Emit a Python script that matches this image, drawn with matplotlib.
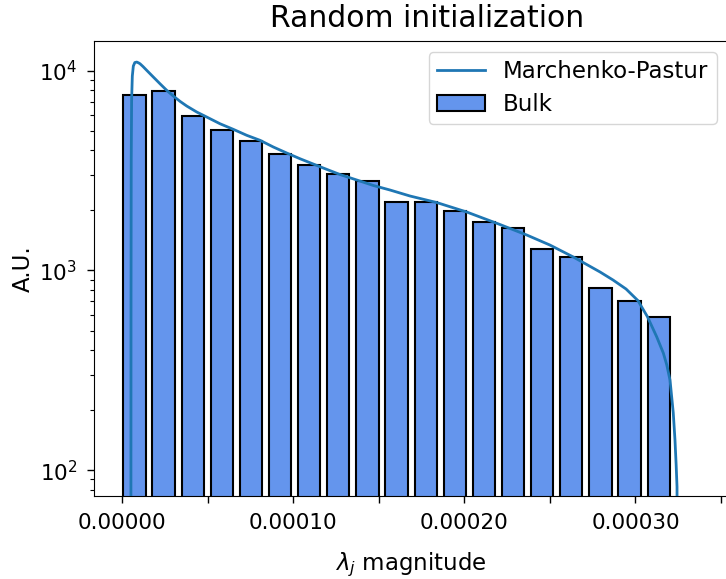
import numpy as np
import matplotlib
matplotlib.use("Agg")
import matplotlib.pyplot as plt

# ---------------- data ----------------
bin_centers = [7.13e-6, 2.416e-5, 4.118e-5, 5.821e-5, 7.523e-5, 9.226e-5,
               1.0929e-4, 1.2631e-4, 1.4334e-4, 1.6036e-4, 1.7739e-4, 1.9441e-4,
               2.1144e-4, 2.2847e-4, 2.4549e-4, 2.6252e-4, 2.7954e-4, 2.9657e-4,
               3.1360e-4]
bulk_counts = [7590, 7940, 5960, 5030, 4430, 3840, 3390, 3030, 2790, 2210,
               2210, 1990, 1750, 1630, 1280, 1170, 817, 700, 582]

mp_x = [5.05e-6, 5.085e-6, 5.14e-6, 5.26e-6, 5.49e-6, 5.90e-6, 6.49e-6, 7.36e-6,
        8.48e-6, 9.53e-6, 1.040e-5, 1.216e-5, 1.432e-5, 1.818e-5, 2.209e-5,
        2.601e-5, 2.987e-5, 3.378e-5, 3.770e-5, 4.355e-5, 4.939e-5, 5.716e-5,
        6.494e-5, 7.277e-5, 8.054e-5, 8.832e-5, 9.615e-5, 1.039e-4, 1.175e-4,
        1.273e-4, 1.371e-4, 1.468e-4, 1.565e-4, 1.682e-4, 1.838e-4, 2.014e-4,
        2.208e-4, 2.364e-4, 2.500e-4, 2.637e-4, 2.793e-4, 2.869e-4, 2.945e-4,
        3.015e-4, 3.070e-4, 3.124e-4, 3.163e-4, 3.183e-4, 3.202e-4, 3.221e-4,
        3.231e-4, 3.238e-4, 3.243e-4, 3.246e-4]
mp_y = [1.0, 79.7, 712, 3573, 7134, 9408, 10556, 10990,
        11053, 10952, 10839, 10495, 10046, 9300, 8606,
        7978, 7470, 7027, 6658, 6214, 5865, 5428,
        5089, 4751, 4485, 4151, 3874, 3627, 3259,
        3023, 2838, 2664, 2529, 2360, 2189, 1962,
        1699, 1506, 1341, 1168, 983, 896, 808,
        706, 587, 466, 386, 337, 283, 194,
        142, 106, 82.5, 1.0]

x_tick_values = [0.0, 0.00005, 0.0001, 0.00015, 0.0002, 0.00025, 0.0003, 0.00035]
x_tick_labels = ["0.00000", "", "0.00010", "", "0.00020", "", "0.00030", ""]

title_text = "Random initialization"
x_label = r"$\lambda_j$ magnitude"
y_label = "A.U."
line_label = "Marchenko-Pastur"
bar_label = "Bulk"

# ---------------- drawing ----------------
plt.rcParams['font.family'] = ['DejaVu Sans']
plt.rcParams['mathtext.fontset'] = 'dejavusans'

W, H = 726, 579
L, R, T, B = 94, 728, 41, 496
fig = plt.figure(figsize=(W / 100, H / 100), dpi=100)
ax = fig.add_axes([L / W, 1 - B / H, (R - L) / W, (B - T) / H])

ax.plot(mp_x, mp_y, color='#1f77b4', lw=2.0, label=line_label, zorder=3)
ax.bar(bin_centers, bulk_counts, width=1.30e-5, color='#6495ED',
       edgecolor='black', linewidth=1.5, label=bar_label, zorder=2)

ax.set_yscale('log')
ax.set_ylim(74.3, 14090)
ax.set_xlim(-1.65e-5, 3.541e-4)

ax.set_xticks(x_tick_values)
ax.set_xticklabels(x_tick_labels)
ax.tick_params(axis='both', which='major', labelsize=15.5, length=5, width=1, pad=7)
ax.tick_params(axis='y', which='minor', length=3, width=0.8)

ax.set_title(title_text, fontsize=21.5, pad=10)
ax.title.set_x((427 - L) / (R - L))
ax.set_xlabel(x_label, fontsize=16.5, labelpad=13)
ax.set_ylabel(y_label, fontsize=16.5, labelpad=3)

ax.legend(loc='upper right', fontsize=16.5, frameon=True, handlelength=2.1,
          borderpad=0.35, labelspacing=0.4, handletextpad=0.8)

fig.savefig("out.png", dpi=100)
